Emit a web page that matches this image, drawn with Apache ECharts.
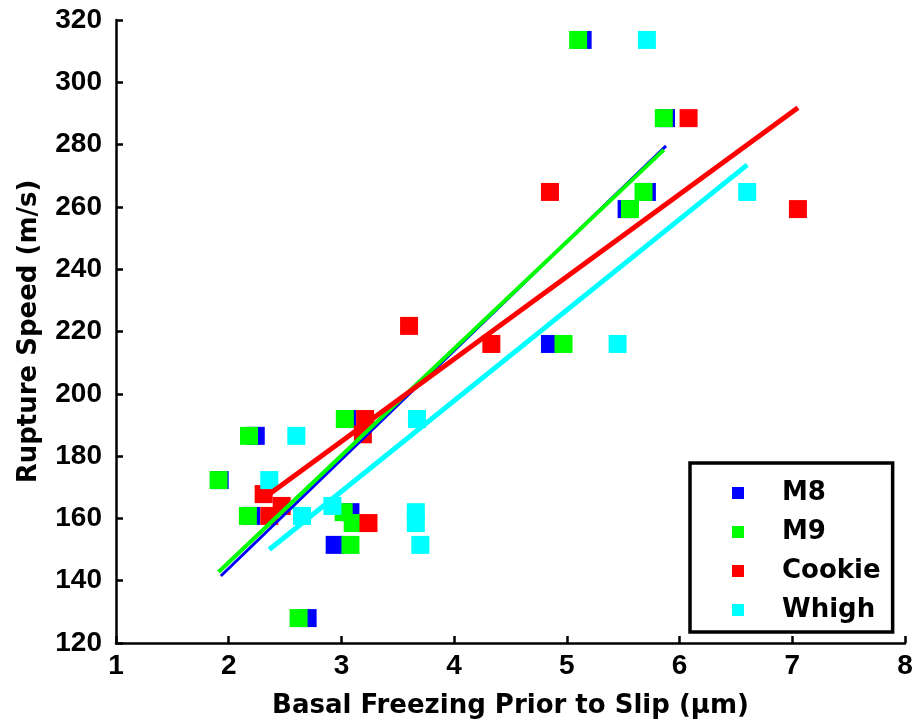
<!DOCTYPE html>
<html>
<head>
<meta charset="utf-8">
<script src="https://cdn.jsdelivr.net/npm/echarts@6/dist/echarts.min.js"></script>
<style>
html,body{margin:0;padding:0;background:#fff;}
#chart{width:917px;height:725px;}
</style>
</head>
<body>
<div id="chart"></div>
<script>
// Data
const seriesNames = ['M8', 'M9', 'Cookie', 'Whigh'];
const seriesColors = ['#0000ff', '#00ff00', '#ff0000', '#00ffff'];

const m8X = [1.92, 2.24, 2.20, 2.70, 2.94, 3.08, 3.05, 4.85, 5.53, 5.71, 5.88, 5.14];
const m8Y = [172.3, 186.5, 160.8, 128.0, 151.5, 162.0, 191.9, 216.0, 259.3, 264.8, 288.5, 313.6];

const m9X = [1.91, 2.18, 2.17, 2.62, 3.08, 3.02, 3.10, 3.03, 4.97, 5.56, 5.68, 5.86, 5.10];
const m9Y = [172.3, 186.5, 160.8, 128.0, 151.5, 162.0, 158.5, 191.9, 216.0, 259.3, 264.8, 288.5, 313.6];

const cookieX = [6.08, 4.85, 7.05, 3.60, 4.33, 3.21, 3.19, 2.31, 2.47, 2.36, 3.24];
const cookieY = [288.5, 264.8, 259.3, 221.8, 216.0, 191.9, 187.0, 167.8, 164.0, 160.8, 158.5];

const whighX = [5.71, 6.60, 5.45, 3.67, 2.60, 2.36, 2.92, 2.65, 3.66, 3.66, 3.70];
const whighY = [313.6, 264.8, 216.0, 191.9, 186.5, 172.3, 164.0, 160.8, 162.0, 158.5, 151.5];

// Fitted trend lines (endpoints)
const m8FitX = [1.93, 5.88];
const m8FitY = [141.5, 279.6];
const m9FitX = [1.91, 5.86];
const m9FitY = [142.8, 278.3];
const cookieFitX = [2.31, 7.05];
const cookieFitY = [166.5, 291.8];
const whighFitX = [2.36, 6.60];
const whighFitY = [150.0, 273.5];

const xTicks = [1, 2, 3, 4, 5, 6, 7, 8];
const yTicks = [120, 140, 160, 180, 200, 220, 240, 260, 280, 300, 320];

const zip = (xs, ys) => xs.map((x, i) => [x, ys[i]]);
const scatterData = [zip(m8X, m8Y), zip(m9X, m9Y), zip(cookieX, cookieY), zip(whighX, whighY)];
const fitData = [zip(m8FitX, m8FitY), zip(m9FitX, m9FitY), zip(cookieFitX, cookieFitY), zip(whighFitX, whighFitY)];
const fitWidths = [3, 4, 5, 5];

const FONT = '"Liberation Sans", Arial, Helvetica, sans-serif';
const WIDE = '"DejaVu Sans", "Liberation Sans", sans-serif';

const series = [];
seriesNames.forEach((n, i) => {
  series.push({
    name: n, type: 'scatter', data: scatterData[i],
    symbol: 'rect', symbolSize: 18,
    itemStyle: { color: seriesColors[i], opacity: 1 },
    emphasis: { disabled: true }, z: 2
  });
});
seriesNames.forEach((n, i) => {
  series.push({
    name: n + ' fit', type: 'line', data: fitData[i],
    showSymbol: false, symbol: 'none',
    lineStyle: { color: seriesColors[i], width: fitWidths[i] },
    emphasis: { disabled: true }, z: 3
  });
});

const chart = echarts.init(document.getElementById('chart'), null, { renderer: 'canvas' });
chart.setOption({
  animation: false,
  backgroundColor: '#ffffff',
  grid: { left: 116, right: 12, top: 20, bottom: 82, containLabel: false },
  xAxis: {
    type: 'value', min: xTicks[0], max: xTicks[xTicks.length - 1], interval: 1,
    name: 'Basal Freezing Prior to Slip (\u03bcm)', nameLocation: 'middle', nameGap: 50,
    nameTextStyle: { fontFamily: WIDE, fontWeight: 'bold', fontSize: 26, color: '#000' },
    axisLine: { onZero: false, lineStyle: { color: '#000', width: 2.5 } },
    axisTick: { inside: true, length: 7, lineStyle: { color: '#000', width: 2.5 } },
    axisLabel: { fontFamily: FONT, fontWeight: 'bold', fontSize: 28, color: '#000', margin: 9 },
    splitLine: { show: false }
  },
  yAxis: {
    type: 'value', min: yTicks[0], max: yTicks[yTicks.length - 1], interval: 20,
    name: 'Rupture Speed (m/s)', nameLocation: 'middle', nameGap: 74, nameRotate: 90,
    nameTextStyle: { fontFamily: WIDE, fontWeight: 'bold', fontSize: 26, color: '#000' },
    axisLine: { onZero: false, lineStyle: { color: '#000', width: 2.5 } },
    axisTick: { inside: true, length: 7, lineStyle: { color: '#000', width: 2.5 } },
    axisLabel: { fontFamily: FONT, fontWeight: 'bold', fontSize: 28, color: '#000', margin: 14 },
    splitLine: { show: false }
  },
  legend: {
    data: seriesNames,
    orient: 'vertical',
    left: 690, top: 463,
    width: 202,
    padding: [17, 12, 9, 42],
    itemGap: 13,
    itemWidth: 12, itemHeight: 12,
    icon: 'rect',
    borderColor: '#000', borderWidth: 3.5,
    backgroundColor: '#fff',
    textStyle: { fontFamily: WIDE, fontWeight: 'bold', fontSize: 26, color: '#000', padding: [0, 0, 0, 33] },
    selectedMode: false
  },
  series: series
});
</script>
</body>
</html>
